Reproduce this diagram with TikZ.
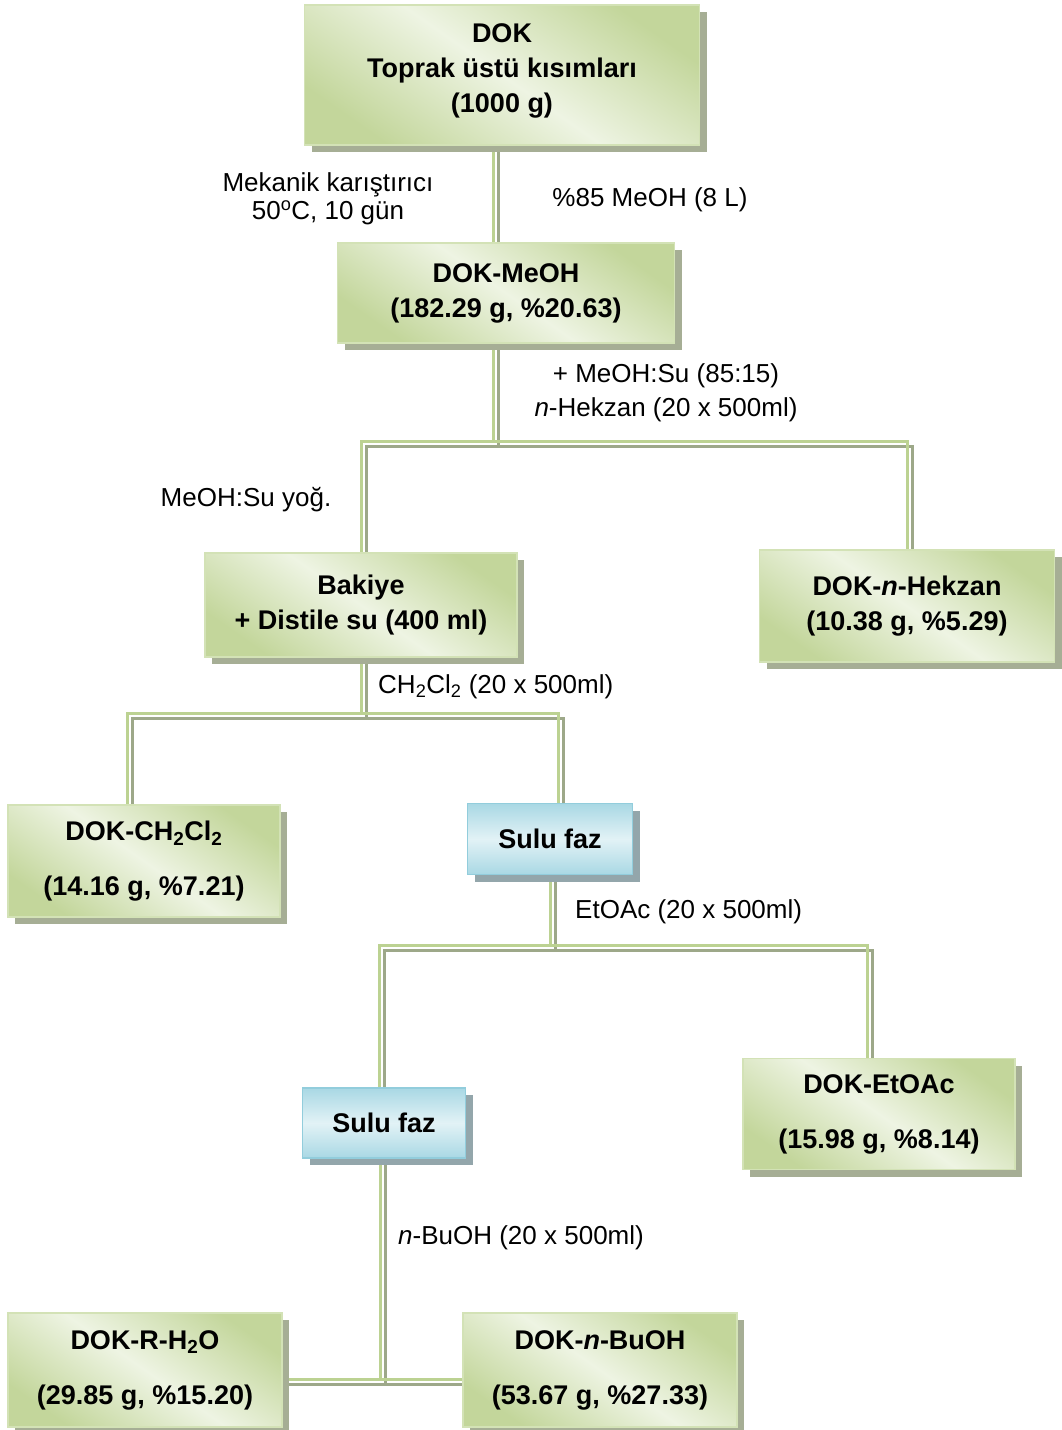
\documentclass[tikz,border=0pt]{standalone}
\usepackage{fontspec}
\setmainfont{Liberation Sans}
\usetikzlibrary{shadows,backgrounds}

\definecolor{boxlight}{HTML}{EEF4E3}
\definecolor{boxdark}{HTML}{C3D69B}
\definecolor{boxedge}{HTML}{D3E2B6}
\definecolor{boxshade}{HTML}{A6AE95}
\definecolor{waterlight}{HTML}{E2F2F6}
\definecolor{waterdark}{HTML}{A9D8E4}
\definecolor{wateredge}{HTML}{92CDDC}
\definecolor{watershade}{HTML}{93A6AB}
\definecolor{pipegreen}{HTML}{BCD292}
\definecolor{pipegrey}{HTML}{9DA889}

\tikzset{
  stage/.style={draw=boxedge, line width=1.5pt, inner sep=0pt, align=center,
    top color=boxdark, bottom color=boxdark, middle color=boxlight, shading angle=-35,
    drop shadow={shadow xshift=7pt, shadow yshift=-7pt, fill=boxshade, opacity=1},
    font=\fontsize{27}{35}\selectfont\bfseries},
  water/.style={stage, draw=wateredge,
    top color=waterdark, bottom color=waterdark, middle color=waterlight,
    drop shadow={shadow xshift=7pt, shadow yshift=-7pt, fill=watershade, opacity=1}},
  note/.style={inner sep=0pt, align=center, font=\fontsize{26}{30}\selectfont},
  pipe/.style={draw=pipegreen, line width=3pt,
    preaction={draw=pipegrey, line width=3pt, transform canvas={xshift=5pt, yshift=-5pt}}},
}

\begin{document}
\begin{tikzpicture}[x=1pt, y=-1pt]
\useasboundingbox (0,0) rectangle (1062,1430);
% Extracts and fractions
    \node[stage, minimum width=395pt, minimum height=140pt] (dok) at (502,75) {DOK\\Toprak üstü kısımları\\(1000 g)\\[-22pt]};
    \node[stage, minimum width=337pt, minimum height=100pt] (meoh) at (506,293) {DOK-MeOH\\(182.29 g, \%20.63)};
    \node[stage, minimum width=312pt, minimum height=104pt] (bakiye) at (361,605) {Bakiye\\+ Distile su (400 ml)};
    \node[stage, minimum width=295pt, minimum height=112pt] (hekzan) at (907,606) {DOK-\textit{n}-Hekzan\\(10.38 g, \%5.29)};
    \node[stage, minimum width=272pt, minimum height=112pt] (ch2cl2) at (144,861) {DOK-CH\textsubscript{2}Cl\textsubscript{2}\\[20pt](14.16 g, \%7.21)};
    \node[water, minimum width=165pt, minimum height=71pt] (sulu1) at (550,839) {Sulu faz};
    \node[water, minimum width=163pt, minimum height=70pt] (sulu2) at (384,1123) {Sulu faz};
    \node[stage, minimum width=272pt, minimum height=111pt] (etoac) at (879,1114) {DOK-EtOAc\\[20pt](15.98 g, \%8.14)};
    \node[stage, minimum width=274pt, minimum height=114pt] (rh2o) at (145,1370) {DOK-R-H\textsubscript{2}O\\[20pt](29.85 g, \%15.20)};
    \node[stage, minimum width=274pt, minimum height=114pt] (buoh) at (600,1370) {DOK-\textit{n}-BuOH\\[20pt](53.67 g, \%27.33)};
% Solvents and conditions
    \node[note, font=\fontsize{26}{28}\selectfont] (mix) at (328,199) {Mekanik karıştırıcı\\50\textsuperscript{o}C, 10 gün};
    \node[note] (meohsolv) at (650,200) {\%85 MeOH (8 L)};
    \node[note, font=\fontsize{26}{34}\selectfont] (hexsolv) at (666,393) {+ MeOH:Su (85:15)\\\textit{n}-Hekzan (20 x 500ml)};
    \node[note] (conc) at (246,500) {MeOH:Su yoğ.};
    \node[note, anchor=west] (dcmsolv) at (378,687) {CH\textsubscript{2}Cl\textsubscript{2} (20 x 500ml)};
    \node[note, anchor=west] (etoacsolv) at (575,912) {EtOAc (20 x 500ml)};
    \node[note, anchor=west] (buohsolv) at (398,1238) {\textit{n}-BuOH (20 x 500ml)};
% Junctions
    \coordinate (split1) at (493,441);
    \coordinate (split2) at (361,713);
    \coordinate (split3) at (550,945);
    \coordinate (split4) at (380,1379);
% Connectors
\begin{scope}[on background layer]
    \draw[pipe] (dok.south -| split1) -- (meoh.north -| split1);
    \draw[pipe] (meoh.south -| split1) -- (split1);
    \draw[pipe] (bakiye.north) |- (split1) -| (hekzan.north);
    \draw[pipe] (bakiye.south) -- (split2);
    \draw[pipe] ([xshift=-17pt]ch2cl2.north) |- (split2) -| ([xshift=8pt]sulu1.north);
    \draw[pipe] (sulu1.south) -- (split3);
    \draw[pipe] ([xshift=-5pt]sulu2.north) |- (split3) -| ([xshift=-12pt]etoac.north);
    \draw[pipe] ([xshift=-4pt]sulu2.south) -- ([xshift=-4pt]sulu2.south |- split4);
    \draw[pipe] (rh2o.east |- split4) -- (buoh.west |- split4);
\end{scope}
\end{tikzpicture}
\end{document}
